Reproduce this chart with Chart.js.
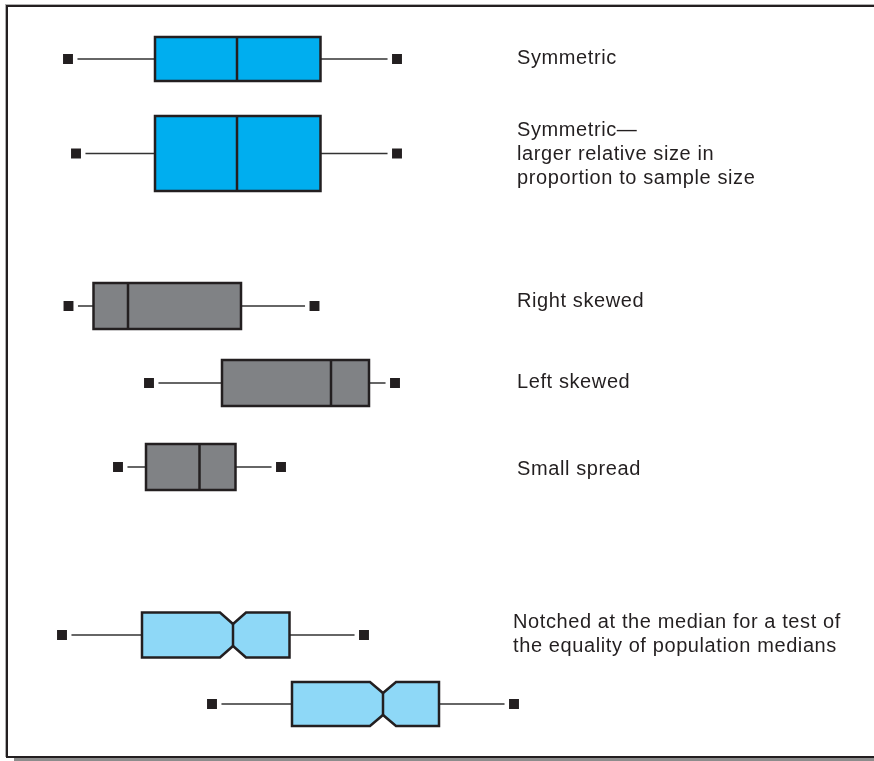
<!DOCTYPE html>
<html>
<head>
    <title>Box plot shapes</title>
    <script src="https://cdn.jsdelivr.net/npm/chart.js"></script>
    <style>
        body {
            margin: 0;
            background: #fff;
            overflow: hidden;
        }
        .wrap {
            position: relative;
            width: 874px;
            height: 761px;
        }
        canvas {
            display: block;
        }
        .frame {
            position: absolute;
            left: 6px;
            top: 5px;
            width: 900px;
            height: 753px;
            box-sizing: border-box;
            border: 2px solid #231f20;
            box-shadow: 8px 3px 0 #8c8c8c, -1px -1px 0 #b0b0b0;
            pointer-events: none;
        }
        .note {
            position: absolute;
            font-family: 'Liberation Sans', Arial, sans-serif;
            font-size: 20px;
            line-height: 24px;
            letter-spacing: 0.6px;
            color: #231f20;
            white-space: nowrap;
        }
    </style>
</head>
<body>
    <div class="wrap">
        <canvas id="boxChart" width="874" height="761"></canvas>
        <div class="frame"></div>
        <div class="note" style="left:517px; top:45px">Symmetric</div>
        <div class="note" style="left:517px; top:117px">Symmetric—<br>larger relative size in<br>proportion to sample size</div>
        <div class="note" style="left:517px; top:288px">Right skewed</div>
        <div class="note" style="left:517px; top:369px">Left skewed</div>
        <div class="note" style="left:517px; top:456px">Small spread</div>
        <div class="note" style="left:513px; top:609px">Notched at the median for a test of<br>the equality of population medians</div>
    </div>

    <script>
        // one entry per box, top to bottom
        const labels = ['Symmetric', 'Symmetric (large)', 'Right skewed', 'Left skewed', 'Small spread', 'Notched A', 'Notched B'];
        const whiskerLow  = [6.8,  7.6,  6.85, 14.9, 11.8, 6.2,  21.2];
        const q1          = [15.5, 15.5, 9.35, 22.2, 14.6, 14.2, 29.2];
        const median      = [23.7, 23.7, 12.8, 33.1, 19.95, 23.3, 38.3];
        const q3          = [32.05, 32.05, 24.1, 36.9, 23.55, 28.95, 43.9];
        const whiskerHigh = [39.7, 39.7, 31.45, 39.5, 28.1, 36.4, 51.4];
        const rowY        = [5.9, 15.35, 30.6, 38.3, 46.7, 63.5, 70.4];
        const boxSize     = [4.4, 7.5, 4.6, 4.6, 4.6, 4.5, 4.4];
        const notchHalfX  = [0, 0, 0, 0, 0, 1.3, 1.3];
        const notchHalfY  = [0, 0, 0, 0, 0, 1.1, 1.1];
        const fills = ['#00aeef', '#00aeef', '#808285', '#808285', '#808285', '#8ed8f7', '#8ed8f7'];

        const INK = '#231f20';

        // boxes (plain and notched) drawn with the chart's own scales
        const boxPlugin = {
            id: 'boxes',
            afterDatasetsDraw(chart) {
                const {ctx, scales: {x, y}} = chart;
                ctx.save();
                ctx.lineWidth = 2.5;
                ctx.strokeStyle = INK;
                ctx.lineJoin = 'miter';
                labels.forEach((_, i) => {
                    const top = y.getPixelForValue(rowY[i] - boxSize[i] / 2);
                    const bot = y.getPixelForValue(rowY[i] + boxSize[i] / 2);
                    const l = x.getPixelForValue(q1[i]);
                    const r = x.getPixelForValue(q3[i]);
                    const m = x.getPixelForValue(median[i]);
                    let mTop = top, mBot = bot;
                    ctx.beginPath();
                    if (notchHalfX[i]) {
                        const nl = x.getPixelForValue(median[i] - notchHalfX[i]);
                        const nr = x.getPixelForValue(median[i] + notchHalfX[i]);
                        mTop = y.getPixelForValue(rowY[i] - notchHalfY[i]);
                        mBot = y.getPixelForValue(rowY[i] + notchHalfY[i]);
                        ctx.moveTo(l, top);
                        ctx.lineTo(nl, top);
                        ctx.lineTo(m, mTop);
                        ctx.lineTo(nr, top);
                        ctx.lineTo(r, top);
                        ctx.lineTo(r, bot);
                        ctx.lineTo(nr, bot);
                        ctx.lineTo(m, mBot);
                        ctx.lineTo(nl, bot);
                        ctx.lineTo(l, bot);
                        ctx.closePath();
                    } else {
                        ctx.rect(l, top, r - l, bot - top);
                    }
                    ctx.fillStyle = fills[i];
                    ctx.fill();
                    ctx.stroke();
                    ctx.beginPath();
                    ctx.moveTo(m, mTop);
                    ctx.lineTo(m, mBot);
                    ctx.stroke();
                });
                ctx.restore();
            }
        };

        const whiskerSets = labels.map((name, i) => ({
            label: name + ' whisker',
            data: [{x: whiskerLow[i], y: rowY[i]}, {x: whiskerHigh[i], y: rowY[i]}],
            showLine: true,
            borderColor: '#333',
            borderWidth: 1.3,
            pointRadius: 0,
            order: 2
        }));

        const ends = [];
        labels.forEach((_, i) => {
            ends.push({x: whiskerLow[i], y: rowY[i]});
            ends.push({x: whiskerHigh[i], y: rowY[i]});
        });

        new Chart(document.getElementById('boxChart'), {
            type: 'scatter',
            data: {
                datasets: [...whiskerSets, {
                    label: 'Extremes',
                    data: ends,
                    pointStyle: 'rect',
                    pointRadius: 10.2,
                    backgroundColor: INK,
                    borderColor: '#ffffff',
                    borderWidth: 4.5,
                    order: 1
                }]
            },
            options: {
                responsive: false,
                animation: false,
                events: [],
                layout: {padding: 0, autoPadding: false},
                plugins: {
                    legend: {display: false},
                    tooltip: {enabled: false}
                },
                scales: {
                    x: {type: 'linear', min: 0, max: 87.4, display: false},
                    y: {type: 'linear', min: 0, max: 76.1, reverse: true, display: false}
                }
            },
            plugins: [boxPlugin]
        });
    </script>
</body>
</html>
